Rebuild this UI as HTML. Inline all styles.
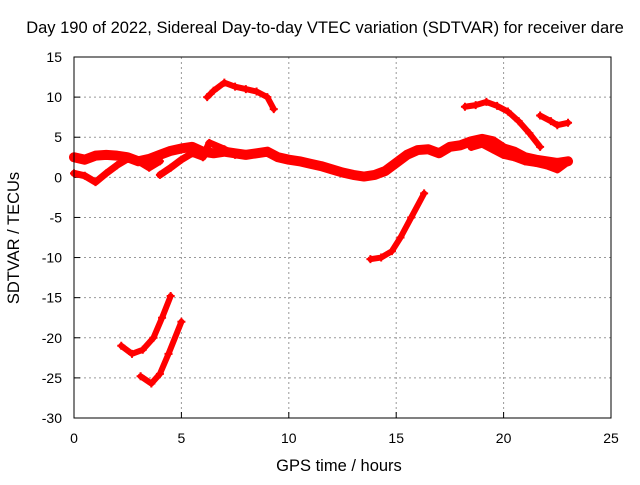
<!DOCTYPE html>
<html><head><meta charset="utf-8"><style>
body{margin:0;background:#fff}
svg{font-family:"Liberation Sans",sans-serif;font-size:14px}
.t{font-size:16.5px}
</style></head><body>
<svg id="c" width="640" height="480">
<text class="t" x="325" y="33" text-anchor="middle">Day 190 of 2022, Sidereal Day-to-day VTEC variation (SDTVAR) for receiver dare</text>
<text class="t" x="339" y="471" text-anchor="middle">GPS time / hours</text>
<text class="t" transform="translate(19,238) rotate(-90)" text-anchor="middle">SDTVAR / TECUs</text>
<g id="grid"></g><g id="marks"></g>
<rect x="74" y="57" width="537" height="361" fill="none" stroke="#000"/>
</svg>
<script>
const xTicks=[0,5,10,15,20,25];
const yTicks=[15,10,5,0,-5,-10,-15,-20,-25,-30];
const mainBand=[[0,2.5],[0.5,2.2],[1,2.7],[1.5,2.8],[2,2.7],[2.5,2.5],[3,2.0],[3.5,2.3],[4,2.8],[4.5,3.3],[5,3.6],[5.5,3.8],[6,3.2],[6.5,3.0],[7,3.2],[7.5,3.0],[8,2.8],[8.5,3.0],[9,3.2],[9.5,2.5],[10,2.2],[10.5,2.0],[11,1.7],[11.5,1.4],[12,1.0],[12.5,0.6],[13,0.3],[13.5,0.1],[14,0.3],[14.5,0.8],[15,1.8],[15.5,2.8],[16,3.4],[16.5,3.5],[17,3.0],[17.5,3.8],[18,4.0],[18.5,4.5],[19,4.8],[19.5,4.5],[20,3.6],[20.5,3.2],[21,2.5],[21.5,2.2],[22,2.0],[22.5,1.8],[23,2.0]];
const lowStart=[[0,0.5],[0.5,0.2],[1,-0.6],[1.5,0.5],[2,1.5],[2.5,2.3],[3,2.0],[3.5,1.2],[4,2.0]];
const crossing=[[4,0.3],[4.5,1.2],[5,2.2],[5.5,3.0],[6,2.5],[6.3,4.3],[7,3.5],[7.5,2.8]];
const lateBand=[[18.5,3.8],[19,4.2],[19.5,3.5],[20,2.8],[20.5,2.5],[21,2.0],[21.5,1.8],[22,1.5],[22.5,1.0],[23,2.0]];
const arc7=[[6.2,10],[6.5,10.8],[7,11.8],[7.5,11.3],[8,11.0],[8.5,10.7],[9,10.0],[9.3,8.5]];
const arc19=[[18.2,8.8],[18.7,9.0],[19.2,9.4],[19.7,8.9],[20.2,8.2],[20.7,7.0],[21.2,5.5],[21.7,3.8]];
const arc22=[[21.7,7.7],[22.2,7.0],[22.5,6.5],[23,6.8]];
const rise15=[[13.8,-10.2],[14.3,-10],[14.8,-9.2],[15.2,-7.5],[15.7,-5],[16.3,-2]];
const dipA=[[2.2,-21],[2.7,-22],[3.2,-21.5],[3.7,-20],[4.1,-17.5],[4.5,-14.8]];
const dipB=[[3.1,-24.8],[3.6,-25.7],[4,-24.5],[4.4,-22],[5,-18]];
const X=v=>74+v*537/25, Y=v=>57+(15-v)*361/45;
const NS="http://www.w3.org/2000/svg";
const g=document.getElementById('grid'),m=document.getElementById('marks');
function el(t,a,p){const e=document.createElementNS(NS,t);for(const k in a)e.setAttribute(k,a[k]);p.appendChild(e);return e;}
xTicks.forEach(t=>{
 if(t>0&&t<25){const l=el('line',{x1:X(t),x2:X(t),y1:57,y2:418,stroke:'#999','stroke-dasharray':'2,3'},g);
 
 }
 el('line',{x1:X(t),x2:X(t),y1:418,y2:412,stroke:'#000'},g);
 const tx=el('text',{x:X(t),y:443,'text-anchor':'middle'},g);tx.textContent=t;
 
 
});
yTicks.forEach(t=>{
 if(t<15&&t>-30){const l=el('line',{x1:74,x2:611,y1:Y(t),y2:Y(t),stroke:'#999','stroke-dasharray':'2,3'},g);
 
 }
 el('line',{x1:74,x2:80,y1:Y(t),y2:Y(t),stroke:'#000'},g);
 const tx=el('text',{x:62,y:Y(t)+5,'text-anchor':'end'},g);tx.textContent=t;
 
 
});
const series=[[mainBand,'main-band',10],[lowStart,'low-start',7],[crossing,'crossing',7],[lateBand,'late-band',8],[arc7,'arc-7h',6],[arc19,'arc-19h',6],[arc22,'arc-22h',6],[rise15,'rise-15h',6],[dipA,'dip-a',6],[dipB,'dip-b',6]];
series.forEach(([d,n,w])=>{
 const p=el('polyline',{points:d.map(q=>X(q[0])+','+Y(q[1])).join(' '),fill:'none',stroke:'#f00','stroke-width':w,'stroke-linejoin':'round','stroke-linecap':'round'},m);
 
 
 d.forEach(q=>{const px=X(q[0]),py=Y(q[1]);
  const c=el('path',{d:`M${px-4},${py}h8M${px},${py-4}v8`,stroke:'#f00','stroke-width':2},m);
  
  });
});
</script>
</body></html>
